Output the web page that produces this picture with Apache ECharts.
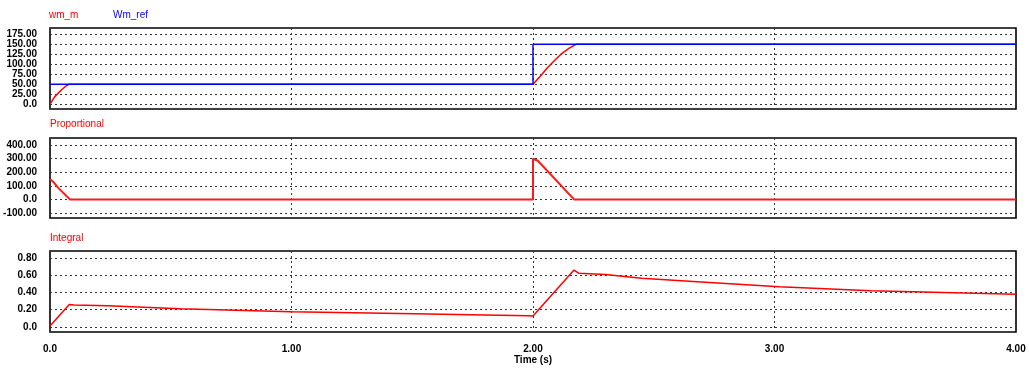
<!DOCTYPE html>
<html>
<head>
<meta charset="utf-8">
<script src="https://cdn.jsdelivr.net/npm/echarts@6/dist/echarts.min.js"></script>
<style>
html,body{margin:0;padding:0;background:#fff;}
#chart{width:1029px;height:369px;}
</style>
</head>
<body>
<div id="chart"></div>
<script>
// ---- data ----
const timeTicks = [0, 1, 2, 3, 4];
const timeTickLabels = ['0.0', '1.00', '2.00', '3.00', '4.00'];

const speedTicks = [0, 25, 50, 75, 100, 125, 150, 175];
const speedTickLabels = ['0.0', '25.00', '50.00', '75.00', '100.00', '125.00', '150.00', '175.00'];

const propTicks = [-100, 0, 100, 200, 300, 400];
const propTickLabels = ['-100.00', '0.0', '100.00', '200.00', '300.00', '400.00'];

const intTicks = [0, 0.2, 0.4, 0.6, 0.8];
const intTickLabels = ['0.0', '0.20', '0.40', '0.60', '0.80'];

const wmM = [[0,0],[0.02,19],[0.048,36],[0.065,45],[0.08,50],[2.0,50],[2.03,70],[2.06,91],[2.09,110],[2.116,125],[2.15,140],[2.18,150],[4.0,150]];
const wmRef = [[0,50],[2.0,50],[2.0,150],[4.0,150]];
const proportional = [[0,150],[0.008,148],[0.014,129],[0.034,85],[0.083,0],[2.0,0],[2.0,300],[2.02,285],[2.17,0],[4.0,0]];
const integral = [[0,0.01],[0.08,0.262],[0.1,0.255],[0.24,0.245],[0.54,0.21],[1.0,0.175],[1.51,0.152],[1.98,0.13],[2.0,0.128],[2.17,0.663],[2.19,0.625],[2.3,0.612],[2.45,0.566],[2.68,0.527],[3.02,0.468],[3.4,0.421],[4.0,0.379]];

// ---- chart ----
const FONT = 'Liberation Sans, Arial, sans-serif';
const gridLine = {show: true, lineStyle: {color: '#333', width: 1, type: [2, 3]}};

function labelFor(ticks, labels) {
  return function (v) {
    for (let i = 0; i < ticks.length; i++) {
      if (Math.abs(ticks[i] - v) < 1e-9) return labels[i];
    }
    return '';
  };
}

function xAxis(gridIndex, showLabels) {
  const ax = {
    type: 'value', gridIndex: gridIndex, min: 0, max: 4, interval: 1,
    axisLine: {show: false}, axisTick: {show: false},
    splitLine: gridLine,
    axisLabel: {show: showLabels, formatter: labelFor(timeTicks, timeTickLabels),
      color: '#000', fontFamily: FONT, fontSize: 10, fontWeight: 'bold', margin: 12}
  };
  if (showLabels) {
    ax.name = 'Time (s)';
    ax.nameLocation = 'middle';
    ax.nameGap = 23;
    ax.nameTextStyle = {color: '#000', fontFamily: FONT, fontSize: 10, fontWeight: 'bold'};
  }
  return ax;
}

function yAxis(gridIndex, min, max, ticks, labels) {
  return {
    type: 'value', gridIndex: gridIndex, min: min, max: max,
    axisLine: {show: false},
    axisTick: {show: false, customValues: ticks},
    splitLine: gridLine,
    axisLabel: {customValues: ticks, formatter: labelFor(ticks, labels),
      color: '#000', fontFamily: FONT, fontSize: 10, fontWeight: 'bold', margin: 13}
  };
}

const gridStyle = {show: true, borderColor: '#000', borderWidth: 1.6, backgroundColor: '#fff', left: 50, right: 13};

const chart = echarts.init(document.getElementById('chart'), null, {renderer: 'canvas'});
chart.setOption({
  animation: false,
  backgroundColor: '#fff',
  title: [
    {text: 'wm_m', left: 44, top: 5, textStyle: {color: '#ff0000', fontFamily: FONT, fontSize: 10, fontWeight: 'normal'}},
    {text: 'Wm_ref', left: 108, top: 5, textStyle: {color: '#0000ff', fontFamily: FONT, fontSize: 10, fontWeight: 'normal'}},
    {text: 'Proportional', left: 45, top: 114, textStyle: {color: '#ff0000', fontFamily: FONT, fontSize: 10, fontWeight: 'normal'}},
    {text: 'Integral', left: 45, top: 228, textStyle: {color: '#ff0000', fontFamily: FONT, fontSize: 10, fontWeight: 'normal'}}
  ],
  grid: [
    Object.assign({top: 28, height: 81}, gridStyle),
    Object.assign({top: 138, height: 80}, gridStyle),
    Object.assign({top: 251, height: 81}, gridStyle)
  ],
  xAxis: [xAxis(0, false), xAxis(1, false), xAxis(2, true)],
  yAxis: [
    yAxis(0, -12, 190.5, speedTicks, speedTickLabels),
    yAxis(1, -137, 453, propTicks, propTickLabels),
    yAxis(2, -0.06, 0.885, intTicks, intTickLabels)
  ],
  series: [
    {name: 'wm_m', type: 'line', xAxisIndex: 0, yAxisIndex: 0, data: wmM, showSymbol: false,
      lineStyle: {color: '#ff0000', width: 1.5}},
    {name: 'Wm_ref', type: 'line', xAxisIndex: 0, yAxisIndex: 0, data: wmRef, showSymbol: false,
      lineStyle: {color: '#0000ff', width: 1.5}},
    {name: 'Proportional', type: 'line', xAxisIndex: 1, yAxisIndex: 1, data: proportional, showSymbol: false,
      lineStyle: {color: '#ff1a1a', width: 2}},
    {name: 'Integral', type: 'line', xAxisIndex: 2, yAxisIndex: 2, data: integral, showSymbol: false,
      lineStyle: {color: '#ff0000', width: 1.5}}
  ]
});
</script>
</body>
</html>
